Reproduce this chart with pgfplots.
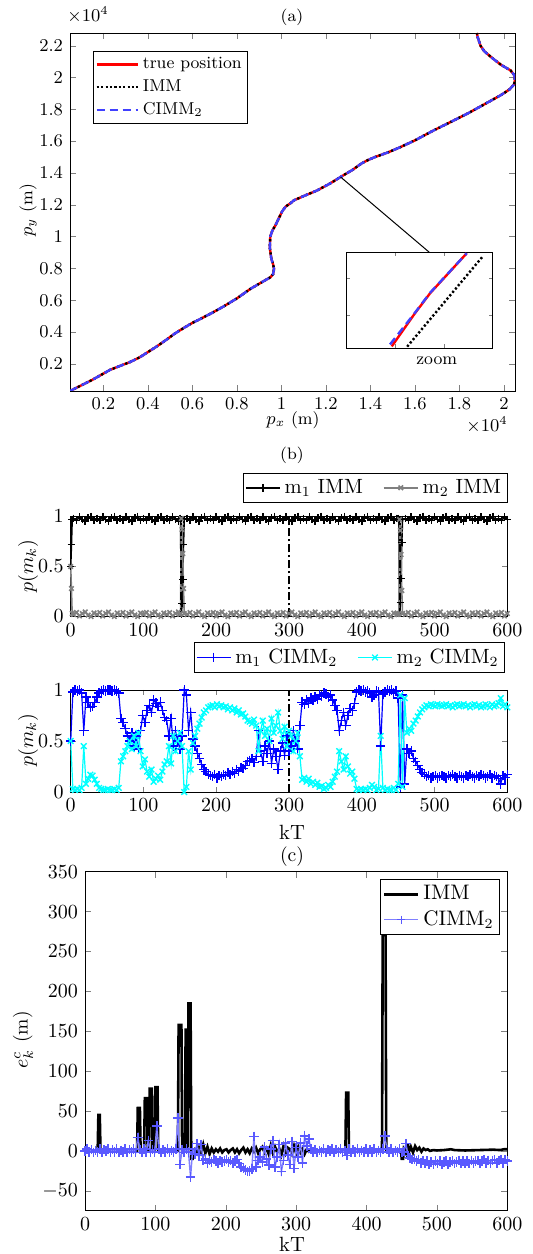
\documentclass[border=0pt]{standalone}
\usepackage{pgfplots}
\usepackage{pgfplotstable}
\pgfplotsset{compat=1.18}
\definecolor{cblue}{rgb}{0.25,0.25,1}
\definecolor{mgray}{rgb}{0.5,0.5,0.5}
\definecolor{lblue}{rgb}{0.5,0.5,1}
\definecolor{mblue}{rgb}{0.35,0.35,1}
\definecolor{pblue}{rgb}{0,0,1}
\definecolor{pcyan}{rgb}{0,1,1}

\pgfplotstableread[row sep=\\]{
x y\\
0.05 0.03\\ 0.10 0.065\\ 0.15 0.10\\ 0.20 0.139\\ 0.23 0.163\\ 0.27 0.185\\ 0.32 0.212\\ 0.365 0.243\\
0.395 0.27\\ 0.44 0.31\\ 0.486 0.355\\ 0.52 0.39\\ 0.56 0.425\\ 0.60 0.458\\ 0.636 0.483\\ 0.69 0.522\\
0.741 0.562\\ 0.80 0.612\\ 0.861 0.672\\ 0.91 0.712\\ 0.951 0.745\\ 0.963 0.765\\ 0.967 0.798\\ 0.962 0.83\\
0.955 0.86\\ 0.948 0.93\\ 0.95 1.0\\ 0.96 1.04\\ 0.973 1.07\\ 0.99 1.12\\ 1.004 1.16\\ 1.02 1.19\\
1.041 1.21\\ 1.056 1.228\\ 1.10 1.255\\ 1.16 1.29\\ 1.22 1.335\\ 1.266 1.375\\ 1.32 1.42\\ 1.36 1.46\\
1.387 1.48\\ 1.42 1.50\\ 1.48 1.53\\ 1.537 1.564\\ 1.60 1.605\\ 1.686 1.669\\ 1.76 1.72\\ 1.837 1.774\\
1.91 1.83\\ 1.987 1.89\\ 2.025 1.925\\ 2.045 1.955\\ 2.05 1.98\\ 2.047 2.015\\ 2.03 2.045\\ 1.987 2.08\\
1.95 2.12\\ 1.912 2.165\\ 1.895 2.2\\ 1.889 2.225\\ 1.882 2.255\\ 1.879 2.28\\
}\traj

\pgfplotstableread[row sep=\\]{
k m1 m2\\
0 0.5 0.5\\ 1 0.72 0.28\\ 2 0.97 0.03\\
4 0.98 0.02\\ 8 0.96 0.04\\ 12 0.995 0.005\\ 16 0.97 0.03\\ 20 0.955 0.045\\ 24 0.985 0.015\\ 28 1 0\\ 32 0.965 0.035\\
36 0.98 0.02\\ 40 0.96 0.04\\ 44 0.995 0.005\\ 48 0.97 0.03\\ 52 0.955 0.045\\ 56 0.985 0.015\\ 60 1 0\\ 64 0.965 0.035\\
68 0.98 0.02\\ 72 0.96 0.04\\ 76 0.995 0.005\\ 80 0.97 0.03\\ 84 0.955 0.045\\ 88 0.985 0.015\\ 92 1 0\\ 96 0.965 0.035\\
100 0.98 0.02\\ 104 0.96 0.04\\ 108 0.995 0.005\\ 112 0.97 0.03\\ 116 0.955 0.045\\ 120 0.985 0.015\\ 124 1 0\\ 128 0.965 0.035\\
132 0.98 0.02\\ 136 0.96 0.04\\ 140 0.995 0.005\\ 144 0.97 0.03\\ 148 0.955 0.045\\
150 0.98 0.02\\ 151 0.97 0.03\\ 152 0.02 0.98\\ 153 0.13 0.87\\ 154 0.37 0.63\\ 155 0.72 0.28\\ 156 0.97 0.03\\
160 0.98 0.02\\ 164 0.96 0.04\\ 168 0.995 0.005\\ 172 0.97 0.03\\ 176 0.955 0.045\\ 180 0.985 0.015\\ 184 1 0\\ 188 0.965 0.035\\
192 0.98 0.02\\ 196 0.96 0.04\\ 200 0.995 0.005\\ 204 0.97 0.03\\ 208 0.955 0.045\\ 212 0.985 0.015\\ 216 1 0\\ 220 0.965 0.035\\
224 0.98 0.02\\ 228 0.96 0.04\\ 232 0.995 0.005\\ 236 0.97 0.03\\ 240 0.955 0.045\\ 244 0.985 0.015\\ 248 1 0\\ 252 0.965 0.035\\
256 0.98 0.02\\ 260 0.96 0.04\\ 264 0.995 0.005\\ 268 0.97 0.03\\ 272 0.955 0.045\\ 276 0.985 0.015\\ 280 1 0\\ 284 0.965 0.035\\
288 0.98 0.02\\ 292 0.96 0.04\\ 296 0.995 0.005\\ 300 0.97 0.03\\ 304 0.955 0.045\\ 308 0.985 0.015\\ 312 1 0\\ 316 0.965 0.035\\
320 0.98 0.02\\ 324 0.96 0.04\\ 328 0.995 0.005\\ 332 0.97 0.03\\ 336 0.955 0.045\\ 340 0.985 0.015\\ 344 1 0\\ 348 0.965 0.035\\
352 0.98 0.02\\ 356 0.96 0.04\\ 360 0.995 0.005\\ 364 0.97 0.03\\ 368 0.955 0.045\\ 372 0.985 0.015\\ 376 1 0\\ 380 0.965 0.035\\
384 0.98 0.02\\ 388 0.96 0.04\\ 392 0.995 0.005\\ 396 0.97 0.03\\ 400 0.955 0.045\\ 404 0.985 0.015\\ 408 1 0\\ 412 0.965 0.035\\
416 0.98 0.02\\ 420 0.96 0.04\\ 424 0.995 0.005\\ 428 0.97 0.03\\ 432 0.955 0.045\\ 436 0.985 0.015\\ 440 1 0\\ 444 0.965 0.035\\
448 0.98 0.02\\
450 0.98 0.02\\ 451 0.97 0.03\\ 452 0.03 0.97\\ 453 0.14 0.86\\ 454 0.38 0.62\\ 455 0.74 0.26\\ 456 0.97 0.03\\
460 0.98 0.02\\ 464 0.96 0.04\\ 468 0.995 0.005\\ 472 0.97 0.03\\ 476 0.955 0.045\\ 480 0.985 0.015\\ 484 1 0\\ 488 0.965 0.035\\
492 0.98 0.02\\ 496 0.96 0.04\\ 500 0.995 0.005\\ 504 0.97 0.03\\ 508 0.955 0.045\\ 512 0.985 0.015\\ 516 1 0\\ 520 0.965 0.035\\
524 0.98 0.02\\ 528 0.96 0.04\\ 532 0.995 0.005\\ 536 0.97 0.03\\ 540 0.955 0.045\\ 544 0.985 0.015\\ 548 1 0\\ 552 0.965 0.035\\
556 0.98 0.02\\ 560 0.96 0.04\\ 564 0.995 0.005\\ 568 0.97 0.03\\ 572 0.955 0.045\\ 576 0.985 0.015\\ 580 1 0\\ 584 0.965 0.035\\
588 0.98 0.02\\ 592 0.96 0.04\\ 596 0.995 0.005\\ 600 0.97 0.03\\
}\immprob

\pgfplotstableread[row sep=\\]{
k m1 m2\\
0 0.5 0.5\\ 3 0.98 0.03\\ 6 1.0 0.02\\ 9 0.99 0.03\\ 12 1.0 0.02\\ 15 0.97 0.04\\ 18 0.6 0.45\\ 21 0.93 0.08\\
24 0.88 0.13\\ 27 0.83 0.17\\ 30 0.84 0.16\\ 33 0.88 0.12\\ 36 0.93 0.08\\ 39 0.97 0.04\\ 42 0.99 0.03\\ 45 1.0 0.02\\
48 0.99 0.02\\ 51 1.0 0.03\\ 54 1.0 0.02\\ 57 0.99 0.02\\ 60 1.0 0.03\\ 63 0.99 0.02\\ 66 0.97 0.04\\ 69 0.72 0.3\\
72 0.68 0.35\\ 75 0.62 0.4\\ 78 0.55 0.45\\ 81 0.5 0.5\\ 84 0.58 0.42\\ 87 0.45 0.55\\ 90 0.55 0.45\\ 93 0.42 0.58\\
96 0.6 0.4\\ 99 0.75 0.25\\ 102 0.68 0.32\\ 105 0.8 0.2\\ 108 0.85 0.15\\ 111 0.78 0.22\\ 114 0.9 0.1\\ 117 0.87 0.13\\
120 0.84 0.16\\ 123 0.88 0.12\\ 126 0.8 0.2\\ 129 0.73 0.27\\ 132 0.7 0.3\\ 135 0.55 0.45\\ 138 0.72 0.28\\ 141 0.45 0.55\\
144 0.6 0.4\\ 147 0.5 0.5\\ 150 0.42 0.58\\ 153 0.55 0.45\\ 156 1.0 0.0\\ 159 0.95 0.05\\ 162 0.6 0.4\\ 165 0.78 0.22\\
168 0.52 0.48\\ 171 0.45 0.55\\ 174 0.38 0.62\\ 177 0.33 0.67\\ 180 0.27 0.73\\ 183 0.22 0.78\\ 186 0.2 0.8\\ 189 0.17 0.83\\
192 0.16 0.84\\ 195 0.15 0.85\\ 198 0.17 0.83\\ 201 0.14 0.86\\ 204 0.16 0.84\\ 207 0.15 0.85\\ 210 0.17 0.83\\ 213 0.16 0.84\\
216 0.19 0.81\\ 219 0.17 0.83\\ 222 0.2 0.8\\ 225 0.18 0.82\\ 228 0.22 0.78\\ 231 0.2 0.8\\ 234 0.24 0.76\\ 237 0.23 0.77\\
240 0.26 0.74\\ 243 0.3 0.7\\ 246 0.31 0.69\\ 249 0.33 0.67\\ 252 0.29 0.71\\ 255 0.35 0.65\\ 258 0.6 0.4\\ 261 0.4 0.6\\
264 0.3 0.7\\ 267 0.45 0.55\\ 270 0.38 0.62\\ 273 0.5 0.5\\ 276 0.28 0.72\\ 279 0.42 0.58\\ 282 0.35 0.65\\ 285 0.22 0.78\\
288 0.4 0.6\\ 291 0.48 0.52\\ 294 0.36 0.64\\ 297 0.55 0.45\\ 300 0.4 0.6\\ 303 0.45 0.55\\ 306 0.6 0.4\\ 309 0.5 0.5\\
312 0.42 0.58\\ 315 0.65 0.35\\ 318 0.88 0.12\\ 321 0.86 0.14\\ 324 0.9 0.1\\ 327 0.87 0.13\\ 330 0.92 0.08\\ 333 0.9 0.1\\
336 0.93 0.07\\ 339 0.91 0.09\\ 342 0.95 0.05\\ 345 0.94 0.06\\ 348 0.97 0.03\\ 351 0.96 0.04\\ 354 0.93 0.07\\ 357 0.95 0.05\\
360 0.9 0.1\\ 363 0.85 0.15\\ 366 0.8 0.2\\ 369 0.6 0.4\\ 372 0.7 0.3\\ 375 0.78 0.22\\ 378 0.65 0.35\\ 381 0.75 0.25\\
384 0.82 0.18\\ 387 0.8 0.2\\ 390 0.87 0.13\\ 393 0.98 0.03\\ 396 1.0 0.02\\ 399 0.99 0.03\\ 402 1.0 0.02\\ 405 0.98 0.03\\
408 0.99 0.02\\ 411 0.97 0.04\\ 414 0.93 0.07\\ 417 0.95 0.05\\ 420 0.99 0.02\\ 423 0.98 0.03\\ 426 0.45 0.55\\ 429 0.96 0.04\\
432 0.98 0.02\\ 435 1.0 0.03\\ 438 0.99 0.02\\ 441 1.0 0.02\\ 444 0.97 0.04\\ 447 0.99 0.02\\ 450 0.92 0.08\\ 453 0.05 0.95\\
456 0.95 0.05\\ 459 0.08 0.92\\ 462 0.42 0.58\\ 465 0.38 0.62\\ 468 0.4 0.6\\ 471 0.33 0.67\\ 474 0.3 0.7\\ 477 0.26 0.74\\
480 0.22 0.78\\ 483 0.19 0.81\\ 486 0.17 0.83\\ 489 0.15 0.85\\ 492 0.16 0.84\\ 495 0.14 0.86\\ 498 0.15 0.85\\ 501 0.16 0.84\\
504 0.14 0.86\\ 507 0.15 0.85\\ 510 0.16 0.84\\ 513 0.15 0.85\\ 516 0.14 0.86\\ 519 0.16 0.84\\ 522 0.15 0.85\\ 525 0.17 0.83\\
528 0.15 0.85\\ 531 0.14 0.86\\ 534 0.16 0.84\\ 537 0.15 0.85\\ 540 0.14 0.86\\ 543 0.16 0.84\\ 546 0.15 0.85\\ 549 0.17 0.83\\
552 0.15 0.85\\ 555 0.14 0.86\\ 558 0.16 0.84\\ 561 0.15 0.85\\ 564 0.17 0.83\\ 567 0.16 0.84\\ 570 0.14 0.86\\ 573 0.15 0.85\\
576 0.17 0.83\\ 579 0.14 0.86\\ 582 0.16 0.84\\ 585 0.15 0.85\\ 588 0.13 0.87\\ 591 0.08 0.92\\ 594 0.16 0.84\\ 597 0.14 0.86\\
600 0.17 0.83\\
}\cimmprob

\pgfplotstableread[row sep=\\]{
k e\\
0 0\\ 15 0.5\\ 18 0\\ 19 45\\ 21 45\\ 22 0\\ 40 0.5\\ 60 -0.5\\ 74 0\\ 75 54\\ 78 54\\ 79 0\\ 84 0\\ 85 66\\ 88 66\\ 89 0\\
91 0\\ 92 78\\ 95 78\\ 96 0\\ 99 0\\ 100 80\\ 103 80\\ 104 0\\ 120 0.5\\ 132 0\\ 133 158\\ 137 158\\ 138 0\\ 142 0\\
143 152\\ 145 152\\ 146 0\\ 147 185\\ 150 185\\ 151 -10\\ 153 -10\\ 154 0\\ 156 2\\ 159 -3\\ 162 4\\ 165 -2\\ 168 8\\
171 -3\\ 174 5\\ 177 -4\\ 180 3\\ 183 -2\\ 186 2\\ 189 -1\\ 192 3\\ 195 -2\\ 198 1\\ 201 2\\ 204 -2\\ 207 1\\ 210 3\\
213 -2\\ 216 2\\ 219 -3\\ 222 1\\ 225 4\\ 228 -2\\ 231 2\\ 234 -3\\ 237 3\\ 240 -1\\ 243 4\\ 246 -3\\ 249 2\\ 252 5\\
255 -2\\ 258 3\\ 261 -4\\ 264 7\\ 267 -3\\ 270 5\\ 273 -2\\ 276 3\\ 279 -5\\ 282 6\\ 285 -3\\ 288 4\\ 291 2\\ 294 -4\\
297 6\\ 300 -3\\ 303 5\\ 306 -2\\ 309 3\\ 312 -4\\ 315 2\\ 318 -1\\ 321 0.5\\ 330 0\\ 350 0.5\\ 370 0\\ 371 73\\ 374 73\\
375 0\\ 400 0.3\\ 422 0\\ 423 278\\ 427 278\\ 428 0\\ 449 0\\ 450 -10\\ 452 -10\\ 453 2\\ 456 -3\\ 457 8\\ 459 8\\
460 -2\\ 463 5\\ 466 -2\\ 469 6\\ 472 1\\ 475 4\\ 478 -1\\ 481 3\\ 484 1\\ 487 2\\ 490 0\\ 495 1\\ 500 0.5\\ 510 1\\
520 2\\ 525 1\\ 540 0.5\\ 560 1\\ 580 1.5\\ 590 1\\ 595 2\\ 600 2\\
}\immerr

\pgfplotstableread[row sep=\\]{
k e\\
0 0\\ 3 2\\ 6 -1.5\\ 9 1.5\\ 12 -2\\ 15 0.5\\ 18 -1.5\\ 21 2\\ 24 -2\\ 27 1.5\\ 30 -0.5\\ 33 2\\ 36 -2\\ 39 1.5\\
42 -1.5\\ 45 2\\ 48 -2\\ 51 0.5\\ 54 -1.5\\ 57 2\\ 60 -2\\ 63 1.5\\ 66 -1.5\\ 69 2\\ 72 -2\\ 75 17\\ 78 1.5\\ 81 -2\\
84 2\\ 87 -1.5\\ 90 13\\ 93 -2\\ 96 1.5\\ 99 -1.5\\ 102 31\\ 105 2\\ 108 -2\\ 111 1.5\\ 114 -1.5\\ 117 2\\ 120 -2\\
123 0.5\\ 126 -1.5\\ 129 2\\ 132 41\\ 135 -17\\ 138 1.5\\ 141 -2\\ 144 2\\ 147 -1.5\\ 150 -33\\ 153 2\\ 156 -4\\ 159 9\\
162 -5\\ 165 8\\ 168 -12\\ 171 -10\\ 174 -15\\ 177 -12\\ 180 -14\\ 183 -11\\ 186 -13\\ 189 -15\\ 192 -12\\ 195 -14\\
198 -13\\ 201 -11\\ 204 -14\\ 207 -12\\ 210 -15\\ 213 -13\\ 216 -11\\ 219 -16\\ 222 -20\\ 225 -22\\ 228 -24\\ 231 -26\\
234 -25\\ 237 -23\\ 240 18\\ 243 -20\\ 246 -12\\ 249 -8\\ 252 -14\\ 255 5\\ 258 -10\\ 261 -18\\ 264 2\\ 267 13\\ 270 -20\\
273 -8\\ 276 8\\ 279 -26\\ 282 -12\\ 285 10\\ 288 -5\\ 291 -17\\ 294 12\\ 297 -22\\ 300 4\\ 303 -8\\ 306 10\\ 309 -15\\
312 19\\ 315 6\\ 318 15\\ 321 2\\ 324 -1.5\\ 327 1.5\\ 330 -2\\ 333 0.5\\ 336 -1.5\\ 339 2\\ 342 -2\\ 345 1.5\\ 348 -0.5\\
351 2\\ 354 -2\\ 357 1.5\\ 360 -1.5\\ 363 2\\ 366 -2\\ 369 0.5\\ 372 -6\\ 375 2\\ 378 -2\\ 381 1.5\\ 384 -1.5\\
387 2\\ 390 -2\\ 393 0.5\\ 396 -1.5\\ 399 2\\ 402 -2\\ 405 1.5\\ 408 -1.5\\ 411 2\\ 414 -2\\ 417 0.5\\ 420 -1.5\\
423 2\\ 426 19\\ 429 1.5\\ 432 -1.5\\ 435 2\\ 438 -2\\ 441 0.5\\ 444 -1.5\\ 447 2\\ 450 -2\\ 453 -1\\ 456 9\\
459 -6\\ 462 -9\\ 465 -11\\ 468 -10\\ 471 -13\\ 474 -11\\ 477 -15\\ 480 -12\\ 483 -16\\ 486 -13\\ 489 -17\\ 492 -14\\
495 -17\\ 498 -13\\ 501 -16\\ 504 -13\\ 507 -17\\ 510 -14\\ 513 -13\\ 516 -17\\ 519 -14\\ 522 -13\\ 525 -16\\ 528 -14\\
531 -12\\ 534 -16\\ 537 -13\\ 540 -16\\ 543 -13\\ 546 -16\\ 549 -12\\ 552 -15\\ 555 -13\\ 558 -12\\ 561 -16\\ 564 -13\\
567 -11\\ 570 -15\\ 573 -12\\ 576 -16\\ 579 -12\\ 582 -11\\ 585 -15\\ 588 -12\\ 591 -11\\ 594 -15\\ 597 -11\\ 600 -13\\
}\cimmerr

\begin{document}
\begin{tikzpicture}
\path[use as bounding box] (0,0) rectangle (266.5pt,627pt);

% ---------------- (a) ----------------
\begin{axis}[
  at={(35pt,431.5pt)}, anchor=south west, scale only axis,
  width=222.5pt, height=179pt,
  xmin=0.05, xmax=2.05, ymin=0.03, ymax=2.28,
  xtick={0.2,0.4,0.6,0.8,1,1.2,1.4,1.6,1.8,2},
  ytick={0.2,0.4,0.6,0.8,1,1.2,1.4,1.6,1.8,2,2.2},
  scaled ticks=false,
  major tick length=3pt,
  tick label style={font=\fontsize{8.6}{10}\selectfont},
  legend style={at={(0.052,0.95)}, anchor=north west, font=\fontsize{8.6}{9}\selectfont,
    inner sep=1pt, draw=black, fill=white},
  legend cell align=left,
  legend image code/.code={\draw[#1] (0cm,0cm) -- (0.72cm,0cm);},
]
\addplot[red, line width=1.2pt] table[x=x,y=y]{\traj};
\addlegendentry{true position}
\addplot[black, line width=1.2pt, dash pattern=on 1.1pt off 1.1pt] table[x=x,y=y]{\traj};
\addlegendentry{IMM}
\addplot[cblue, line width=1.2pt, dash pattern=on 4pt off 2.5pt] table[x=x,y=y]{\traj};
\addlegendentry{CIMM$_2$}
\draw[black, line width=0.5pt] (axis cs:1.266,1.375) -- (axis cs:1.668,0.898);
\end{axis}

% inset
\begin{axis}[
  at={(173pt,452.85pt)}, anchor=south west, scale only axis,
  width=73.35pt, height=48pt,
  xmin=0, xmax=1, ymin=0, ymax=1,
  xtick={0.334,0.668}, ytick={0.347,0.729},
  xticklabels={}, yticklabels={},
  major tick length=2pt,
  axis background/.style={fill=white},
]
\addplot[red, line width=1.2pt] coordinates {(0.312,0.02) (0.47,0.365) (0.573,0.573) (0.823,0.99)};
\addplot[black, line width=1.2pt, dash pattern=on 1.1pt off 1.1pt] coordinates {(0.417,0.017) (0.931,0.955)};
\addplot[cblue, line width=1.2pt, dash pattern=on 4pt off 2.5pt] coordinates {(0.30,0.04) (0.47,0.37) (0.573,0.578) (0.823,0.99)};
\end{axis}

\node[font=\fontsize{8.3}{10}\selectfont] at (146pt,618.5pt) {(a)};
\node[font=\fontsize{8.6}{10}\selectfont] at (44pt,619.5pt) {$\times10^4$};
\node[font=\fontsize{8.6}{10}\selectfont] at (243.5pt,414.5pt) {$\times10^4$};
\node[font=\fontsize{8.6}{10}\selectfont] at (146.5pt,417pt) {$p_x$ (m)};
\node[font=\fontsize{8.6}{10}\selectfont, rotate=90] at (14pt,522pt) {$p_y$ (m)};
\node[font=\fontsize{8.6}{10}\selectfont] at (218.35pt,446.5pt) {zoom};

% ---------------- (b) top ----------------
\begin{axis}[
  at={(35.35pt,318.75pt)}, anchor=south west, scale only axis,
  width=218.3pt, height=50pt,
  xmin=0, xmax=600, ymin=0, ymax=1,
  xtick={0,100,200,300,400,500,600}, ytick={0,0.5,1},
  major tick length=2.5pt,
  clip=false,
  tick label style={font=\fontsize{10}{12}\selectfont},
  legend columns=2,
  legend style={at={(1,1.138)}, anchor=south east, font=\fontsize{10.3}{12}\selectfont,
    inner sep=1pt, draw=black, fill=white,
    /tikz/every even column/.append style={column sep=8pt}},
]
\addplot[black, line width=0.8pt, mark=+, mark size=1.9pt] table[x=k,y=m1]{\immprob};
\addlegendentry{m$_1$ IMM}
\addplot[mgray, line width=0.8pt, mark=x, mark size=1.6pt] table[x=k,y=m2]{\immprob};
\addlegendentry{m$_2$ IMM}
\addplot[black, line width=1.1pt, dash pattern=on 4pt off 1.5pt on 1pt off 1.5pt, forget plot] coordinates {(152,0) (152,1)};
\addplot[black, line width=1pt, dash pattern=on 4pt off 1.5pt on 1pt off 1.5pt, forget plot] coordinates {(300,0) (300,1)};
\addplot[black, line width=1.1pt, dash pattern=on 4pt off 1.5pt on 1pt off 1.5pt, forget plot] coordinates {(452,0) (452,1)};
\end{axis}

% ---------------- (b) bottom ----------------
\begin{axis}[
  at={(35.35pt,231pt)}, anchor=south west, scale only axis,
  width=218.3pt, height=51pt,
  xmin=0, xmax=600, ymin=0, ymax=1,
  xtick={0,100,200,300,400,500,600}, ytick={0,0.5,1},
  major tick length=2.5pt,
  clip=false,
  tick label style={font=\fontsize{10}{12}\selectfont},
  legend columns=2,
  legend style={at={(0.995,1.17)}, anchor=south east, font=\fontsize{10.3}{12}\selectfont,
    inner sep=1pt, draw=black, fill=white,
    /tikz/every even column/.append style={column sep=8pt}},
]
\addplot[pblue, line width=0.6pt, mark=+, mark size=2.4pt, mark options={line width=0.7pt}] table[x=k,y=m1]{\cimmprob};
\addlegendentry{m$_1$ CIMM$_2$}
\addplot[pcyan, line width=0.6pt, mark=x, mark size=2pt, mark options={line width=0.7pt}] table[x=k,y=m2]{\cimmprob};
\addlegendentry{m$_2$ CIMM$_2$}
\addplot[black, line width=1pt, dash pattern=on 4pt off 1.5pt on 1pt off 1.5pt, forget plot] coordinates {(300,0) (300,1)};
\end{axis}

\node[font=\fontsize{8.3}{10}\selectfont] at (146pt,399.5pt) {(b)};
\node[font=\fontsize{10.3}{12}\selectfont, rotate=90] at (14pt,344pt) {$p(m_k)$};
\node[font=\fontsize{10.3}{12}\selectfont, rotate=90] at (14pt,257pt) {$p(m_k)$};
\node[font=\fontsize{10.3}{12}\selectfont] at (146pt,211pt) {kT};

% ---------------- (c) ----------------
\begin{axis}[
  at={(42.5pt,21.65pt)}, anchor=south west, scale only axis,
  width=211.15pt, height=169.5pt,
  xmin=0, xmax=600, ymin=-75, ymax=350,
  xtick={0,100,200,300,400,500,600},
  ytick={-50,0,50,100,150,200,250,300,350},
  major tick length=3pt,
  tick label style={font=\fontsize{9.8}{12}\selectfont},
  legend style={at={(0.983,0.978)}, anchor=north east, font=\fontsize{10.5}{11}\selectfont,
    inner sep=1pt, draw=black, fill=white},
  legend cell align=left,
]
\addlegendimage{black, line width=1.3pt}
\addlegendentry{IMM}
\addlegendimage{lblue, line width=0.6pt, mark=+, mark size=2pt, mark options={mblue}}
\addlegendentry{CIMM$_2$}
\addplot[black, line width=1.3pt, forget plot] table[x=k,y=e]{\immerr};
\addplot[lblue, line width=0.7pt, mark=+, mark size=2.4pt, mark options={mblue, line width=0.8pt}, forget plot] table[x=k,y=e]{\cimmerr};
\end{axis}

\node[font=\fontsize{9.8}{12}\selectfont] at (146pt,198.5pt) {(c)};
\node[font=\fontsize{9.8}{12}\selectfont, rotate=90] at (11.5pt,107pt) {$e_k^c$ (m)};
\node[font=\fontsize{10.3}{12}\selectfont] at (146pt,5pt) {kT};
\end{tikzpicture}
\end{document}
